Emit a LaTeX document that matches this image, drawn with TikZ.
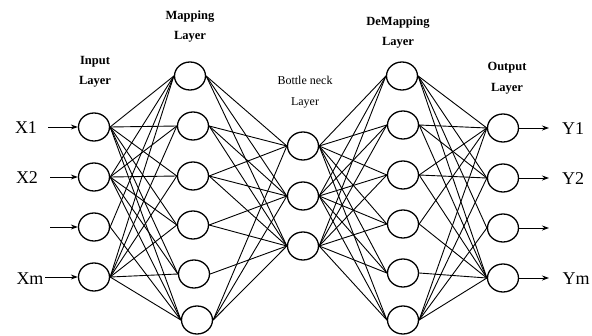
\documentclass[tikz,border=0pt]{standalone}
\usepackage{fontspec}
\setmainfont{Liberation Serif}
\usetikzlibrary{shapes.geometric,arrows.meta}

\tikzset{
  neuron/.style={ellipse, draw, line width=1.3pt, minimum width=31pt, minimum height=28pt, inner sep=0pt},
  link/.style={line width=0.9pt},
  feed/.style={line width=0.9pt, -{Stealth[length=7pt,width=5pt]}},
  varname/.style={font=\fontsize{18}{20}\selectfont, inner sep=0pt},
  layername/.style={font=\fontsize{12.5}{20.5}\selectfont\bfseries, align=center, inner sep=0pt},
  neckname/.style={font=\fontsize{12}{20.5}\selectfont, align=center, inner sep=0pt}
}

\begin{document}
\begin{tikzpicture}[x=1pt, y=-1pt]
\useasboundingbox (0,0) rectangle (592,335);

% input layer
\node[neuron] (in1) at (94,127) {};
\node[neuron] (in2) at (94,177) {};
\node[neuron] (in3) at (94,227) {};
\node[neuron] (in4) at (94,277) {};

% mapping layer
\node[neuron] (m1) at (190,76) {};
\node[neuron] (m2) at (193,126) {};
\node[neuron] (m3) at (193,176) {};
\node[neuron] (m4) at (193,225) {};
\node[neuron] (m5) at (194,274) {};
\node[neuron] (m6) at (197,320) {};

% bottleneck layer
\node[neuron] (b1) at (303,146) {};
\node[neuron] (b2) at (303,196) {};
\node[neuron] (b3) at (303,246) {};

% demapping layer
\node[neuron] (d1) at (402,76) {};
\node[neuron] (d2) at (403,125) {};
\node[neuron] (d3) at (403,175) {};
\node[neuron] (d4) at (403,224) {};
\node[neuron] (d5) at (403,273) {};
\node[neuron] (d6) at (403,320) {};

% output layer
\node[neuron] (o1) at (503,128) {};
\node[neuron] (o2) at (503,178) {};
\node[neuron] (o3) at (503,228) {};
\node[neuron] (o4) at (503,278) {};

% layer titles
\node[layername] (tin)  at (95,72)   {Input\\Layer};
\node[layername] (tmap) at (190,26.5) {Mapping\\Layer};
\node[neckname]  (tneck) at (305,92) {Bottle neck\\Layer};
\node[layername] (tdem) at (398,32.5) {DeMapping\\Layer};
\node[layername] (tout) at (507,78)  {Output\\Layer};

% variable names
\node[varname] (x1) at (26,128) {X1};
\node[varname] (x2) at (27,178) {X2};
\node[varname] (xm) at (30,279) {Xm};
\node[varname] (y1) at (573,129) {Y1};
\node[varname] (y2) at (573,179) {Y2};
\node[varname] (ym) at (576,279) {Ym};

% arrow ends
\coordinate (a1) at (48,127);
\coordinate (a2) at (50,177);
\coordinate (a3) at (50,227);
\coordinate (a4) at (45,277);
\coordinate (c1) at (549,128);
\coordinate (c2) at (549,178);
\coordinate (c3) at (549,228);
\coordinate (c4) at (549,278);

\foreach \i in {1,...,4} {
  \draw[feed] (a\i) -- (in\i.west);
  \draw[feed] (o\i.east) -- (c\i);
}

% input -> mapping
\foreach \i in {1,2,4} {
  \foreach \j in {1,...,6} {
    \draw[link] (in\i.east) -- (m\j.west);
  }
}
\draw[link] (in3.east) -- (m1.west);
\draw[link] (in3.east) -- (m6.west);

% mapping -> bottleneck
\foreach \i in {1,2,3,6} {
  \foreach \j in {1,2,3} {
    \draw[link] (m\i.east) -- (b\j.west);
  }
}
\draw[link] (m4.east) -- (b2.west);
\draw[link] (m4.east) -- (b3.west);
\draw[link] (m5.east) -- (b3.west);

% bottleneck -> demapping
\foreach \i in {1,2,3} {
  \foreach \j in {1,...,6} {
    \draw[link] (b\i.east) -- (d\j.west);
  }
}

% demapping -> output
\foreach \i in {1,2,3,6} {
  \foreach \j in {1,2,4} {
    \draw[link] (d\i.east) -- (o\j.west);
  }
}
\draw[link] (d4.east) -- (o1.west);
\draw[link] (d4.east) -- (o4.west);
\draw[link] (d5.east) -- (o4.west);
\draw[link] (d1.east) -- (o3.west);
\draw[link] (d6.east) -- (o3.west);

\end{tikzpicture}
\end{document}
